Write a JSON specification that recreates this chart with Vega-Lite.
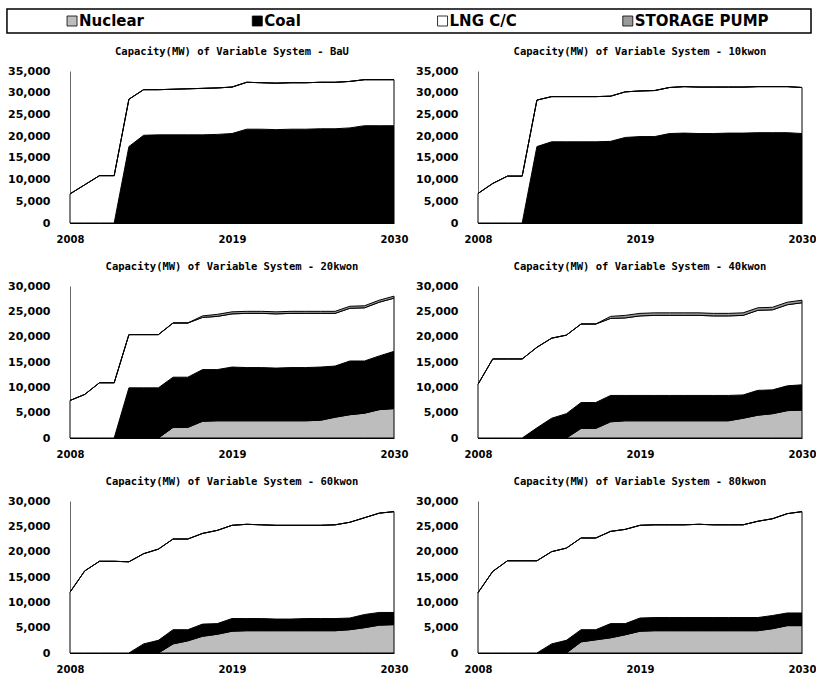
{
  "$schema": "https://vega.github.io/schema/vega-lite/v6.json",
  "padding": {"left": 6, "top": 8, "right": 0, "bottom": 2},
  "background": "white",
  "config": {
    "view": {"stroke": null},
    "font": "DejaVu Sans",
    "axisX": {"labelFont": "DejaVu Sans", "labelFontSize": 10, "labelFontWeight": "bold", "labelColor": "black", "ticks": false, "domainColor": "black", "domainWidth": 1, "labelFlush": false, "labelPadding": 11, "grid": false},
    "axisY": {"labelFont": "DejaVu Sans", "labelFontSize": 11, "labelFontWeight": "bold", "labelColor": "black", "ticks": false, "domainColor": "#444", "domainWidth": 0.8, "labelPadding": 20, "grid": false},
    "title": {"font": "DejaVu Sans Mono", "fontSize": 10.5, "fontWeight": "bold", "color": "black", "offset": 8}
  },
  "spacing": 12,
  "vconcat": [
    {
      "width": 741,
      "height": 24,
      "resolve": {"scale": {"x": "independent"}},
      "layer": [
        {
          "data": {"values": [{"box": "legend"}]},
          "mark": {"type": "rect", "fill": "white", "fillOpacity": 0, "stroke": "black", "strokeWidth": 1.5},
          "encoding": {
            "x": {"datum": 0, "type": "quantitative", "scale": {"domain": [0.0784, 1], "nice": false, "zero": false}, "axis": null},
            "x2": {"datum": 1}
          }
        },
        {
          "data": {"values": [{"type": "Nuclear"}, {"type": "Coal"}, {"type": "LNG C/C"}, {"type": "STORAGE PUMP"}]},
          "encoding": {
            "x": {"field": "type", "type": "nominal", "sort": ["Nuclear", "Coal", "LNG C/C", "STORAGE PUMP"], "scale": {"type": "band", "paddingInner": 0, "paddingOuter": 0}, "bandPosition": 0.011, "axis": null}
          },
          "layer": [
            {
              "mark": {"type": "point", "shape": "square", "filled": true, "size": 100, "stroke": "black", "strokeWidth": 0.8, "opacity": 1},
              "encoding": {"color": {"field": "type", "type": "nominal", "legend": null}}
            },
            {
              "mark": {"type": "text", "align": "left", "dx": 7, "font": "DejaVu Sans", "fontSize": 15, "fontWeight": "bold", "color": "black"},
              "encoding": {"text": {"field": "type"}}
            }
          ]
        }
      ]
    },
    {
      "data": {"values": [
        {"s":"BaU","year":2008,"Nuclear":0,"Coal":0,"LNG C/C":6700,"STORAGE PUMP":0},
        {"s":"BaU","year":2009,"Nuclear":0,"Coal":0,"LNG C/C":8800,"STORAGE PUMP":0},
        {"s":"BaU","year":2010,"Nuclear":0,"Coal":0,"LNG C/C":10900,"STORAGE PUMP":0},
        {"s":"BaU","year":2011,"Nuclear":0,"Coal":0,"LNG C/C":10900,"STORAGE PUMP":0},
        {"s":"BaU","year":2012,"Nuclear":0,"Coal":17600,"LNG C/C":10900,"STORAGE PUMP":0},
        {"s":"BaU","year":2013,"Nuclear":0,"Coal":20200,"LNG C/C":10500,"STORAGE PUMP":0},
        {"s":"BaU","year":2014,"Nuclear":0,"Coal":20300,"LNG C/C":10400,"STORAGE PUMP":0},
        {"s":"BaU","year":2015,"Nuclear":0,"Coal":20300,"LNG C/C":10500,"STORAGE PUMP":0},
        {"s":"BaU","year":2016,"Nuclear":0,"Coal":20300,"LNG C/C":10600,"STORAGE PUMP":0},
        {"s":"BaU","year":2017,"Nuclear":0,"Coal":20300,"LNG C/C":10700,"STORAGE PUMP":0},
        {"s":"BaU","year":2018,"Nuclear":0,"Coal":20400,"LNG C/C":10700,"STORAGE PUMP":0},
        {"s":"BaU","year":2019,"Nuclear":0,"Coal":20600,"LNG C/C":10700,"STORAGE PUMP":0},
        {"s":"BaU","year":2020,"Nuclear":0,"Coal":21600,"LNG C/C":10800,"STORAGE PUMP":0},
        {"s":"BaU","year":2021,"Nuclear":0,"Coal":21600,"LNG C/C":10700,"STORAGE PUMP":0},
        {"s":"BaU","year":2022,"Nuclear":0,"Coal":21500,"LNG C/C":10700,"STORAGE PUMP":0},
        {"s":"BaU","year":2023,"Nuclear":0,"Coal":21600,"LNG C/C":10700,"STORAGE PUMP":0},
        {"s":"BaU","year":2024,"Nuclear":0,"Coal":21600,"LNG C/C":10700,"STORAGE PUMP":0},
        {"s":"BaU","year":2025,"Nuclear":0,"Coal":21700,"LNG C/C":10700,"STORAGE PUMP":0},
        {"s":"BaU","year":2026,"Nuclear":0,"Coal":21700,"LNG C/C":10700,"STORAGE PUMP":0},
        {"s":"BaU","year":2027,"Nuclear":0,"Coal":21900,"LNG C/C":10700,"STORAGE PUMP":0},
        {"s":"BaU","year":2028,"Nuclear":0,"Coal":22400,"LNG C/C":10600,"STORAGE PUMP":0},
        {"s":"BaU","year":2029,"Nuclear":0,"Coal":22400,"LNG C/C":10600,"STORAGE PUMP":0},
        {"s":"BaU","year":2030,"Nuclear":0,"Coal":22400,"LNG C/C":10600,"STORAGE PUMP":0},

        {"s":"10kwon","year":2008,"Nuclear":0,"Coal":0,"LNG C/C":6800,"STORAGE PUMP":0},
        {"s":"10kwon","year":2009,"Nuclear":0,"Coal":0,"LNG C/C":9100,"STORAGE PUMP":0},
        {"s":"10kwon","year":2010,"Nuclear":0,"Coal":0,"LNG C/C":10800,"STORAGE PUMP":0},
        {"s":"10kwon","year":2011,"Nuclear":0,"Coal":0,"LNG C/C":10800,"STORAGE PUMP":0},
        {"s":"10kwon","year":2012,"Nuclear":0,"Coal":17600,"LNG C/C":10700,"STORAGE PUMP":0},
        {"s":"10kwon","year":2013,"Nuclear":0,"Coal":18700,"LNG C/C":10400,"STORAGE PUMP":0},
        {"s":"10kwon","year":2014,"Nuclear":0,"Coal":18700,"LNG C/C":10400,"STORAGE PUMP":0},
        {"s":"10kwon","year":2015,"Nuclear":0,"Coal":18700,"LNG C/C":10400,"STORAGE PUMP":0},
        {"s":"10kwon","year":2016,"Nuclear":0,"Coal":18700,"LNG C/C":10400,"STORAGE PUMP":0},
        {"s":"10kwon","year":2017,"Nuclear":0,"Coal":18800,"LNG C/C":10400,"STORAGE PUMP":0},
        {"s":"10kwon","year":2018,"Nuclear":0,"Coal":19700,"LNG C/C":10500,"STORAGE PUMP":0},
        {"s":"10kwon","year":2019,"Nuclear":0,"Coal":19900,"LNG C/C":10500,"STORAGE PUMP":0},
        {"s":"10kwon","year":2020,"Nuclear":0,"Coal":19900,"LNG C/C":10600,"STORAGE PUMP":0},
        {"s":"10kwon","year":2021,"Nuclear":0,"Coal":20600,"LNG C/C":10600,"STORAGE PUMP":0},
        {"s":"10kwon","year":2022,"Nuclear":0,"Coal":20700,"LNG C/C":10700,"STORAGE PUMP":0},
        {"s":"10kwon","year":2023,"Nuclear":0,"Coal":20600,"LNG C/C":10700,"STORAGE PUMP":0},
        {"s":"10kwon","year":2024,"Nuclear":0,"Coal":20600,"LNG C/C":10700,"STORAGE PUMP":0},
        {"s":"10kwon","year":2025,"Nuclear":0,"Coal":20700,"LNG C/C":10600,"STORAGE PUMP":0},
        {"s":"10kwon","year":2026,"Nuclear":0,"Coal":20700,"LNG C/C":10600,"STORAGE PUMP":0},
        {"s":"10kwon","year":2027,"Nuclear":0,"Coal":20800,"LNG C/C":10600,"STORAGE PUMP":0},
        {"s":"10kwon","year":2028,"Nuclear":0,"Coal":20800,"LNG C/C":10600,"STORAGE PUMP":0},
        {"s":"10kwon","year":2029,"Nuclear":0,"Coal":20800,"LNG C/C":10600,"STORAGE PUMP":0},
        {"s":"10kwon","year":2030,"Nuclear":0,"Coal":20600,"LNG C/C":10600,"STORAGE PUMP":0},

        {"s":"20kwon","year":2008,"Nuclear":0,"Coal":0,"LNG C/C":7400,"STORAGE PUMP":0},
        {"s":"20kwon","year":2009,"Nuclear":0,"Coal":0,"LNG C/C":8600,"STORAGE PUMP":0},
        {"s":"20kwon","year":2010,"Nuclear":0,"Coal":0,"LNG C/C":10900,"STORAGE PUMP":0},
        {"s":"20kwon","year":2011,"Nuclear":0,"Coal":0,"LNG C/C":10900,"STORAGE PUMP":0},
        {"s":"20kwon","year":2012,"Nuclear":0,"Coal":9900,"LNG C/C":10500,"STORAGE PUMP":0},
        {"s":"20kwon","year":2013,"Nuclear":0,"Coal":9900,"LNG C/C":10500,"STORAGE PUMP":0},
        {"s":"20kwon","year":2014,"Nuclear":0,"Coal":9900,"LNG C/C":10500,"STORAGE PUMP":0},
        {"s":"20kwon","year":2015,"Nuclear":2100,"Coal":9900,"LNG C/C":10700,"STORAGE PUMP":0},
        {"s":"20kwon","year":2016,"Nuclear":2100,"Coal":9900,"LNG C/C":10700,"STORAGE PUMP":0},
        {"s":"20kwon","year":2017,"Nuclear":3300,"Coal":10200,"LNG C/C":10300,"STORAGE PUMP":300},
        {"s":"20kwon","year":2018,"Nuclear":3400,"Coal":10100,"LNG C/C":10500,"STORAGE PUMP":400},
        {"s":"20kwon","year":2019,"Nuclear":3400,"Coal":10600,"LNG C/C":10500,"STORAGE PUMP":400},
        {"s":"20kwon","year":2020,"Nuclear":3400,"Coal":10500,"LNG C/C":10700,"STORAGE PUMP":400},
        {"s":"20kwon","year":2021,"Nuclear":3400,"Coal":10500,"LNG C/C":10700,"STORAGE PUMP":400},
        {"s":"20kwon","year":2022,"Nuclear":3400,"Coal":10400,"LNG C/C":10700,"STORAGE PUMP":400},
        {"s":"20kwon","year":2023,"Nuclear":3400,"Coal":10500,"LNG C/C":10700,"STORAGE PUMP":400},
        {"s":"20kwon","year":2024,"Nuclear":3400,"Coal":10500,"LNG C/C":10700,"STORAGE PUMP":400},
        {"s":"20kwon","year":2025,"Nuclear":3500,"Coal":10500,"LNG C/C":10600,"STORAGE PUMP":400},
        {"s":"20kwon","year":2026,"Nuclear":4100,"Coal":10100,"LNG C/C":10400,"STORAGE PUMP":400},
        {"s":"20kwon","year":2027,"Nuclear":4600,"Coal":10600,"LNG C/C":10400,"STORAGE PUMP":400},
        {"s":"20kwon","year":2028,"Nuclear":4900,"Coal":10300,"LNG C/C":10500,"STORAGE PUMP":400},
        {"s":"20kwon","year":2029,"Nuclear":5600,"Coal":10600,"LNG C/C":10600,"STORAGE PUMP":400},
        {"s":"20kwon","year":2030,"Nuclear":5800,"Coal":11300,"LNG C/C":10500,"STORAGE PUMP":400},

        {"s":"40kwon","year":2008,"Nuclear":0,"Coal":0,"LNG C/C":10600,"STORAGE PUMP":0},
        {"s":"40kwon","year":2009,"Nuclear":0,"Coal":0,"LNG C/C":15600,"STORAGE PUMP":0},
        {"s":"40kwon","year":2010,"Nuclear":0,"Coal":0,"LNG C/C":15600,"STORAGE PUMP":0},
        {"s":"40kwon","year":2011,"Nuclear":0,"Coal":0,"LNG C/C":15600,"STORAGE PUMP":0},
        {"s":"40kwon","year":2012,"Nuclear":0,"Coal":2000,"LNG C/C":15900,"STORAGE PUMP":0},
        {"s":"40kwon","year":2013,"Nuclear":0,"Coal":3900,"LNG C/C":15800,"STORAGE PUMP":0},
        {"s":"40kwon","year":2014,"Nuclear":0,"Coal":4800,"LNG C/C":15500,"STORAGE PUMP":0},
        {"s":"40kwon","year":2015,"Nuclear":1900,"Coal":5100,"LNG C/C":15500,"STORAGE PUMP":0},
        {"s":"40kwon","year":2016,"Nuclear":1900,"Coal":5100,"LNG C/C":15500,"STORAGE PUMP":0},
        {"s":"40kwon","year":2017,"Nuclear":3200,"Coal":5200,"LNG C/C":15200,"STORAGE PUMP":400},
        {"s":"40kwon","year":2018,"Nuclear":3400,"Coal":5000,"LNG C/C":15300,"STORAGE PUMP":500},
        {"s":"40kwon","year":2019,"Nuclear":3400,"Coal":5000,"LNG C/C":15700,"STORAGE PUMP":500},
        {"s":"40kwon","year":2020,"Nuclear":3400,"Coal":5000,"LNG C/C":15800,"STORAGE PUMP":500},
        {"s":"40kwon","year":2021,"Nuclear":3400,"Coal":5000,"LNG C/C":15800,"STORAGE PUMP":500},
        {"s":"40kwon","year":2022,"Nuclear":3400,"Coal":5000,"LNG C/C":15800,"STORAGE PUMP":500},
        {"s":"40kwon","year":2023,"Nuclear":3400,"Coal":5000,"LNG C/C":15800,"STORAGE PUMP":500},
        {"s":"40kwon","year":2024,"Nuclear":3400,"Coal":5000,"LNG C/C":15700,"STORAGE PUMP":500},
        {"s":"40kwon","year":2025,"Nuclear":3400,"Coal":5000,"LNG C/C":15700,"STORAGE PUMP":500},
        {"s":"40kwon","year":2026,"Nuclear":3900,"Coal":4600,"LNG C/C":15700,"STORAGE PUMP":500},
        {"s":"40kwon","year":2027,"Nuclear":4500,"Coal":4900,"LNG C/C":15800,"STORAGE PUMP":500},
        {"s":"40kwon","year":2028,"Nuclear":4800,"Coal":4700,"LNG C/C":15800,"STORAGE PUMP":500},
        {"s":"40kwon","year":2029,"Nuclear":5400,"Coal":4900,"LNG C/C":16000,"STORAGE PUMP":500},
        {"s":"40kwon","year":2030,"Nuclear":5500,"Coal":5000,"LNG C/C":16200,"STORAGE PUMP":500},

        {"s":"60kwon","year":2008,"Nuclear":0,"Coal":0,"LNG C/C":12000,"STORAGE PUMP":0},
        {"s":"60kwon","year":2009,"Nuclear":0,"Coal":0,"LNG C/C":16200,"STORAGE PUMP":0},
        {"s":"60kwon","year":2010,"Nuclear":0,"Coal":0,"LNG C/C":18100,"STORAGE PUMP":0},
        {"s":"60kwon","year":2011,"Nuclear":0,"Coal":0,"LNG C/C":18100,"STORAGE PUMP":0},
        {"s":"60kwon","year":2012,"Nuclear":0,"Coal":0,"LNG C/C":18000,"STORAGE PUMP":0},
        {"s":"60kwon","year":2013,"Nuclear":0,"Coal":1800,"LNG C/C":17800,"STORAGE PUMP":0},
        {"s":"60kwon","year":2014,"Nuclear":0,"Coal":2500,"LNG C/C":18000,"STORAGE PUMP":0},
        {"s":"60kwon","year":2015,"Nuclear":1800,"Coal":2800,"LNG C/C":17900,"STORAGE PUMP":0},
        {"s":"60kwon","year":2016,"Nuclear":2400,"Coal":2200,"LNG C/C":17900,"STORAGE PUMP":0},
        {"s":"60kwon","year":2017,"Nuclear":3300,"Coal":2400,"LNG C/C":17900,"STORAGE PUMP":0},
        {"s":"60kwon","year":2018,"Nuclear":3700,"Coal":2100,"LNG C/C":18400,"STORAGE PUMP":0},
        {"s":"60kwon","year":2019,"Nuclear":4300,"Coal":2500,"LNG C/C":18400,"STORAGE PUMP":0},
        {"s":"60kwon","year":2020,"Nuclear":4400,"Coal":2400,"LNG C/C":18600,"STORAGE PUMP":0},
        {"s":"60kwon","year":2021,"Nuclear":4400,"Coal":2400,"LNG C/C":18500,"STORAGE PUMP":0},
        {"s":"60kwon","year":2022,"Nuclear":4400,"Coal":2300,"LNG C/C":18500,"STORAGE PUMP":0},
        {"s":"60kwon","year":2023,"Nuclear":4400,"Coal":2300,"LNG C/C":18500,"STORAGE PUMP":0},
        {"s":"60kwon","year":2024,"Nuclear":4400,"Coal":2400,"LNG C/C":18400,"STORAGE PUMP":0},
        {"s":"60kwon","year":2025,"Nuclear":4400,"Coal":2400,"LNG C/C":18400,"STORAGE PUMP":0},
        {"s":"60kwon","year":2026,"Nuclear":4400,"Coal":2400,"LNG C/C":18500,"STORAGE PUMP":0},
        {"s":"60kwon","year":2027,"Nuclear":4600,"Coal":2300,"LNG C/C":18900,"STORAGE PUMP":0},
        {"s":"60kwon","year":2028,"Nuclear":5000,"Coal":2600,"LNG C/C":19100,"STORAGE PUMP":0},
        {"s":"60kwon","year":2029,"Nuclear":5500,"Coal":2500,"LNG C/C":19600,"STORAGE PUMP":0},
        {"s":"60kwon","year":2030,"Nuclear":5600,"Coal":2400,"LNG C/C":19900,"STORAGE PUMP":0},

        {"s":"80kwon","year":2008,"Nuclear":0,"Coal":0,"LNG C/C":11900,"STORAGE PUMP":0},
        {"s":"80kwon","year":2009,"Nuclear":0,"Coal":0,"LNG C/C":16100,"STORAGE PUMP":0},
        {"s":"80kwon","year":2010,"Nuclear":0,"Coal":0,"LNG C/C":18200,"STORAGE PUMP":0},
        {"s":"80kwon","year":2011,"Nuclear":0,"Coal":0,"LNG C/C":18200,"STORAGE PUMP":0},
        {"s":"80kwon","year":2012,"Nuclear":0,"Coal":0,"LNG C/C":18200,"STORAGE PUMP":0},
        {"s":"80kwon","year":2013,"Nuclear":0,"Coal":1800,"LNG C/C":18200,"STORAGE PUMP":0},
        {"s":"80kwon","year":2014,"Nuclear":0,"Coal":2500,"LNG C/C":18200,"STORAGE PUMP":0},
        {"s":"80kwon","year":2015,"Nuclear":2200,"Coal":2400,"LNG C/C":18100,"STORAGE PUMP":0},
        {"s":"80kwon","year":2016,"Nuclear":2600,"Coal":2000,"LNG C/C":18100,"STORAGE PUMP":0},
        {"s":"80kwon","year":2017,"Nuclear":3000,"Coal":2800,"LNG C/C":18200,"STORAGE PUMP":0},
        {"s":"80kwon","year":2018,"Nuclear":3600,"Coal":2200,"LNG C/C":18600,"STORAGE PUMP":0},
        {"s":"80kwon","year":2019,"Nuclear":4300,"Coal":2600,"LNG C/C":18300,"STORAGE PUMP":0},
        {"s":"80kwon","year":2020,"Nuclear":4400,"Coal":2600,"LNG C/C":18300,"STORAGE PUMP":0},
        {"s":"80kwon","year":2021,"Nuclear":4400,"Coal":2600,"LNG C/C":18300,"STORAGE PUMP":0},
        {"s":"80kwon","year":2022,"Nuclear":4400,"Coal":2600,"LNG C/C":18300,"STORAGE PUMP":0},
        {"s":"80kwon","year":2023,"Nuclear":4400,"Coal":2600,"LNG C/C":18400,"STORAGE PUMP":0},
        {"s":"80kwon","year":2024,"Nuclear":4400,"Coal":2600,"LNG C/C":18300,"STORAGE PUMP":0},
        {"s":"80kwon","year":2025,"Nuclear":4400,"Coal":2600,"LNG C/C":18300,"STORAGE PUMP":0},
        {"s":"80kwon","year":2026,"Nuclear":4400,"Coal":2600,"LNG C/C":18300,"STORAGE PUMP":0},
        {"s":"80kwon","year":2027,"Nuclear":4400,"Coal":2600,"LNG C/C":19000,"STORAGE PUMP":0},
        {"s":"80kwon","year":2028,"Nuclear":4800,"Coal":2600,"LNG C/C":19100,"STORAGE PUMP":0},
        {"s":"80kwon","year":2029,"Nuclear":5400,"Coal":2500,"LNG C/C":19600,"STORAGE PUMP":0},
        {"s":"80kwon","year":2030,"Nuclear":5400,"Coal":2500,"LNG C/C":20000,"STORAGE PUMP":0}
      ]},
      "transform": [
        {"fold": ["Nuclear", "Coal", "LNG C/C", "STORAGE PUMP"], "as": ["type", "value"]},
        {"lookup": "type", "from": {"data": {"values": [{"type": "Nuclear", "rank": 1}, {"type": "Coal", "rank": 2}, {"type": "LNG C/C", "rank": 3}, {"type": "STORAGE PUMP", "rank": 4}]}, "key": "type", "fields": ["rank"]}}
      ],
      "columns": 2,
      "spacing": {"row": 17, "column": 7},
      "concat": [
        {
          "title": "Capacity(MW) of Variable System - BaU",
          "width": 324, "height": 152,
          "transform": [{"filter": "datum.s === 'BaU'"}],
          "mark": {"type": "area", "stroke": "black", "strokeWidth": 1},
          "encoding": {
            "x": {"field": "year", "type": "quantitative", "scale": {"domain": [2008, 2030], "nice": false}, "axis": {"values": [2008, 2019, 2030], "format": "d", "title": null}},
            "y": {"field": "value", "type": "quantitative", "stack": "zero", "scale": {"domain": [0, 35000], "nice": false}, "axis": {"values": [0, 5000, 10000, 15000, 20000, 25000, 30000, 35000], "format": ",.0f", "title": null}},
            "order": {"field": "rank", "type": "quantitative", "sort": "ascending"},
            "color": {"field": "type", "type": "nominal", "scale": {"domain": ["Nuclear", "Coal", "LNG C/C", "STORAGE PUMP"], "range": ["#bdbdbd", "#000000", "#ffffff", "#9a9a9a"]}, "legend": null}
          }
        },
        {
          "title": "Capacity(MW) of Variable System - 10kwon",
          "width": 324, "height": 152,
          "transform": [{"filter": "datum.s === '10kwon'"}],
          "mark": {"type": "area", "stroke": "black", "strokeWidth": 1},
          "encoding": {
            "x": {"field": "year", "type": "quantitative", "scale": {"domain": [2008, 2030], "nice": false}, "axis": {"values": [2008, 2019, 2030], "format": "d", "title": null}},
            "y": {"field": "value", "type": "quantitative", "stack": "zero", "scale": {"domain": [0, 35000], "nice": false}, "axis": {"values": [0, 5000, 10000, 15000, 20000, 25000, 30000, 35000], "format": ",.0f", "title": null}},
            "order": {"field": "rank", "type": "quantitative", "sort": "ascending"},
            "color": {"field": "type", "type": "nominal", "scale": {"domain": ["Nuclear", "Coal", "LNG C/C", "STORAGE PUMP"], "range": ["#bdbdbd", "#000000", "#ffffff", "#9a9a9a"]}, "legend": null}
          }
        },
        {
          "title": "Capacity(MW) of Variable System - 20kwon",
          "width": 324, "height": 152,
          "transform": [{"filter": "datum.s === '20kwon'"}],
          "mark": {"type": "area", "stroke": "black", "strokeWidth": 1},
          "encoding": {
            "x": {"field": "year", "type": "quantitative", "scale": {"domain": [2008, 2030], "nice": false}, "axis": {"values": [2008, 2019, 2030], "format": "d", "title": null}},
            "y": {"field": "value", "type": "quantitative", "stack": "zero", "scale": {"domain": [0, 30000], "nice": false}, "axis": {"values": [0, 5000, 10000, 15000, 20000, 25000, 30000], "format": ",.0f", "title": null}},
            "order": {"field": "rank", "type": "quantitative", "sort": "ascending"},
            "color": {"field": "type", "type": "nominal", "scale": {"domain": ["Nuclear", "Coal", "LNG C/C", "STORAGE PUMP"], "range": ["#bdbdbd", "#000000", "#ffffff", "#9a9a9a"]}, "legend": null}
          }
        },
        {
          "title": "Capacity(MW) of Variable System - 40kwon",
          "width": 324, "height": 152,
          "transform": [{"filter": "datum.s === '40kwon'"}],
          "mark": {"type": "area", "stroke": "black", "strokeWidth": 1},
          "encoding": {
            "x": {"field": "year", "type": "quantitative", "scale": {"domain": [2008, 2030], "nice": false}, "axis": {"values": [2008, 2019, 2030], "format": "d", "title": null}},
            "y": {"field": "value", "type": "quantitative", "stack": "zero", "scale": {"domain": [0, 30000], "nice": false}, "axis": {"values": [0, 5000, 10000, 15000, 20000, 25000, 30000], "format": ",.0f", "title": null}},
            "order": {"field": "rank", "type": "quantitative", "sort": "ascending"},
            "color": {"field": "type", "type": "nominal", "scale": {"domain": ["Nuclear", "Coal", "LNG C/C", "STORAGE PUMP"], "range": ["#bdbdbd", "#000000", "#ffffff", "#9a9a9a"]}, "legend": null}
          }
        },
        {
          "title": "Capacity(MW) of Variable System - 60kwon",
          "width": 324, "height": 152,
          "transform": [{"filter": "datum.s === '60kwon'"}],
          "mark": {"type": "area", "stroke": "black", "strokeWidth": 1},
          "encoding": {
            "x": {"field": "year", "type": "quantitative", "scale": {"domain": [2008, 2030], "nice": false}, "axis": {"values": [2008, 2019, 2030], "format": "d", "title": null}},
            "y": {"field": "value", "type": "quantitative", "stack": "zero", "scale": {"domain": [0, 30000], "nice": false}, "axis": {"values": [0, 5000, 10000, 15000, 20000, 25000, 30000], "format": ",.0f", "title": null}},
            "order": {"field": "rank", "type": "quantitative", "sort": "ascending"},
            "color": {"field": "type", "type": "nominal", "scale": {"domain": ["Nuclear", "Coal", "LNG C/C", "STORAGE PUMP"], "range": ["#bdbdbd", "#000000", "#ffffff", "#9a9a9a"]}, "legend": null}
          }
        },
        {
          "title": "Capacity(MW) of Variable System - 80kwon",
          "width": 324, "height": 152,
          "transform": [{"filter": "datum.s === '80kwon'"}],
          "mark": {"type": "area", "stroke": "black", "strokeWidth": 1},
          "encoding": {
            "x": {"field": "year", "type": "quantitative", "scale": {"domain": [2008, 2030], "nice": false}, "axis": {"values": [2008, 2019, 2030], "format": "d", "title": null}},
            "y": {"field": "value", "type": "quantitative", "stack": "zero", "scale": {"domain": [0, 30000], "nice": false}, "axis": {"values": [0, 5000, 10000, 15000, 20000, 25000, 30000], "format": ",.0f", "title": null}},
            "order": {"field": "rank", "type": "quantitative", "sort": "ascending"},
            "color": {"field": "type", "type": "nominal", "scale": {"domain": ["Nuclear", "Coal", "LNG C/C", "STORAGE PUMP"], "range": ["#bdbdbd", "#000000", "#ffffff", "#9a9a9a"]}, "legend": null}
          }
        }
      ]
    }
  ]
}
